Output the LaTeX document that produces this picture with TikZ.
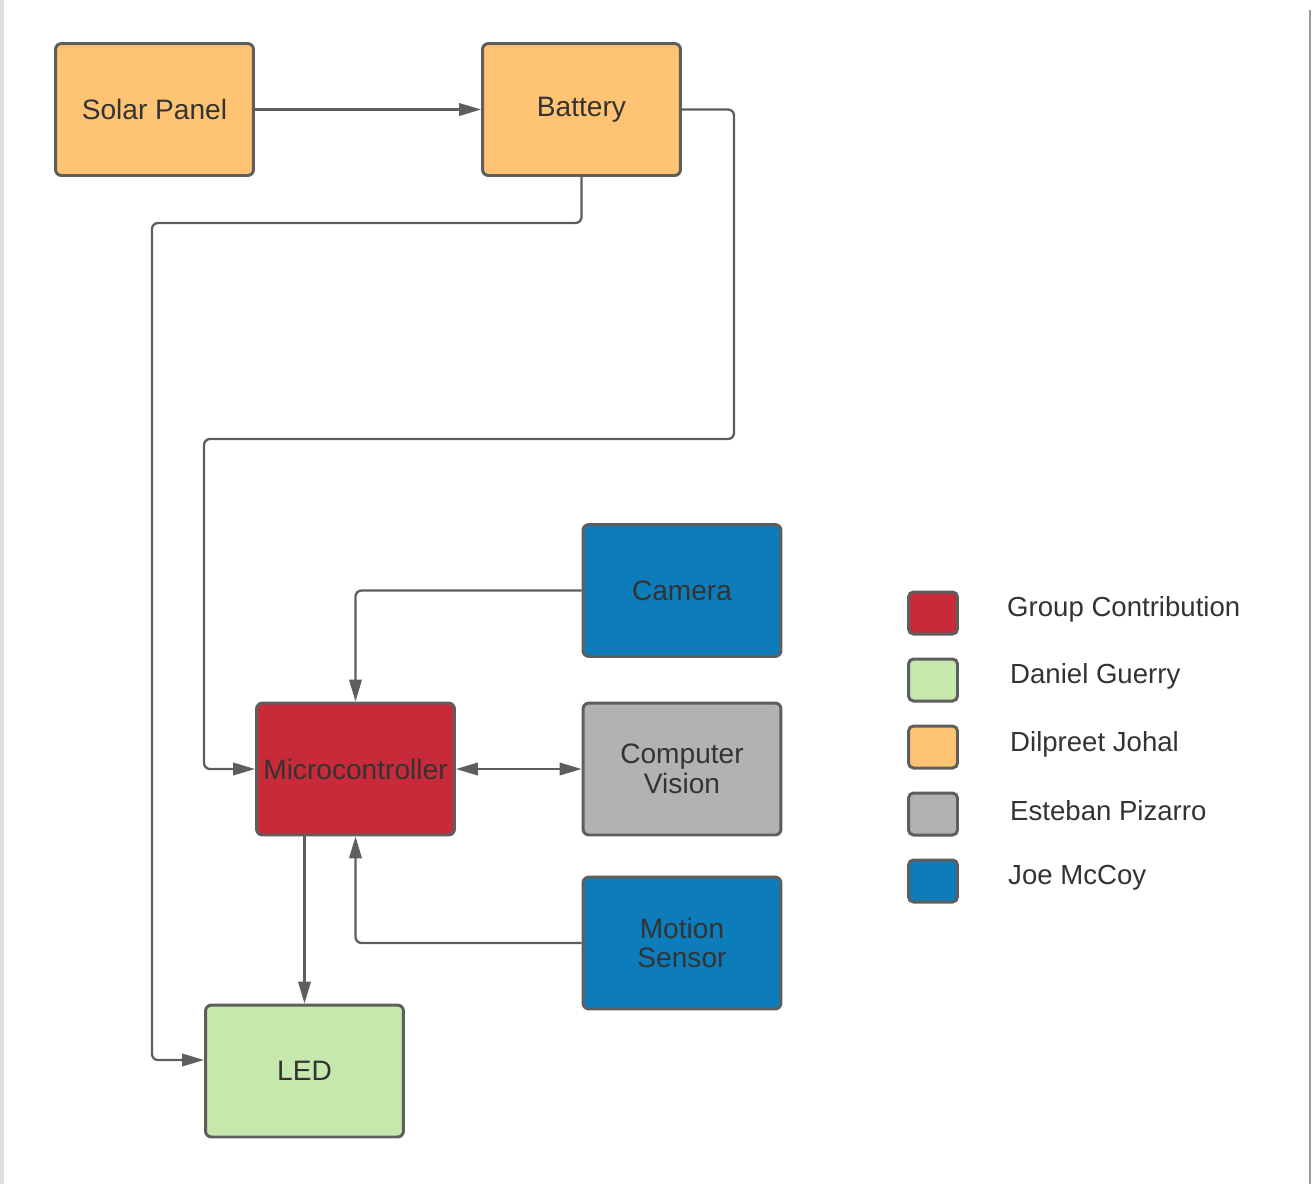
\documentclass[tikz,border=0pt]{standalone}
\usepackage{fontspec}
\setmainfont{Liberation Sans}
\usetikzlibrary{arrows.meta}

\definecolor{edgegray}{HTML}{5E5E5E}
\definecolor{textgray}{HTML}{333333}
\definecolor{fillorange}{HTML}{FFC374}
\definecolor{fillred}{HTML}{C92A39}
\definecolor{fillgreen}{HTML}{C7E8AC}
\definecolor{fillgray}{HTML}{B2B2B2}
\definecolor{fillblue}{HTML}{0C7CBA}

\tikzset{
	block/.style = {draw = edgegray, line width = 1.7pt, rounded corners = 0.12cm, minimum width = 3.96cm, minimum height = 2.64cm, text = textgray, font = \fontsize{16}{17}\selectfont, align = center},
	swatch/.style = {draw = edgegray, line width = 1.7pt, rounded corners = 0.1cm, minimum width = 0.98cm, minimum height = 0.84cm},
	entry/.style = {anchor = west, text = textgray, font = \fontsize{15.7}{17}\selectfont},
	link/.style = {draw = edgegray, line width = 1.3pt, rounded corners = 0.12cm, -{Triangle[length = 0.44cm, width = 0.25cm]}}
}

\begin{document}
\begin{tikzpicture}[x = 0.02cm, y = -0.02cm]
		\useasboundingbox (0, 0) rectangle (1312, 1184);
		% Frame
		\fill[gray!25] (0, 0) rectangle (4, 1184);
		\draw[gray!80, line width = 1pt] (1310, 10) -- (1310, 1184);
		% Blocks
		\node[block, fill = fillorange] (solar) at (154.5, 109.5) {Solar Panel};
		\node[block, fill = fillorange] (battery) at (581.5, 109.5) {Battery};
		\node[block, fill = fillblue] (camera) at (682, 590.5) {Camera};
		\node[block, fill = fillred] (micro) at (355.5, 769) {Microcontroller};
		\node[block, fill = fillgray] (vision) at (682, 769) {Computer\\Vision};
		\node[block, fill = fillblue] (motion) at (682, 943) {Motion\\Sensor};
		\node[block, fill = fillgreen] (led) at (304.5, 1071) {LED};
		% Connections
		\draw[link] (solar.east) -- (battery.west);
		\draw[link] (battery.east) -- (734, 109.5) -- (734, 439) -- (204, 439) -- (204, 769) -- (micro.west);
		\draw[link] (battery.south) -- (581.5, 223) -- (152, 223) -- (152, 1060) -- ([yshift = 0.22cm]led.west);
		\draw[link] (camera.west) -| (micro.north);
		\draw[link, {Triangle[length = 0.44cm, width = 0.25cm]}-{Triangle[length = 0.44cm, width = 0.25cm]}] (micro.east) -- (vision.west);
		\draw[link] (motion.west) -| (micro.south);
		\draw[link] (led.north |- micro.south) -- (led.north);
		% Legend
		\node[swatch, fill = fillred] (keygroup) at (933, 613) {};
		\node[swatch, fill = fillgreen] (keydaniel) at (933, 680) {};
		\node[swatch, fill = fillorange] (keydilpreet) at (933, 747) {};
		\node[swatch, fill = fillgray] (keyesteban) at (933, 814) {};
		\node[swatch, fill = fillblue] (keyjoe) at (933, 881) {};
		\node[entry] (labgroup) at (1001, 609) {Group Contribution};
		\node[entry] (labdaniel) at (1004, 676) {Daniel Guerry};
		\node[entry] (labdilpreet) at (1004, 744) {Dilpreet Johal};
		\node[entry] (labesteban) at (1004, 811) {Esteban Pizarro};
		\node[entry] (labjoe) at (1002, 878) {Joe McCoy};
	\end{tikzpicture}
\end{document}
